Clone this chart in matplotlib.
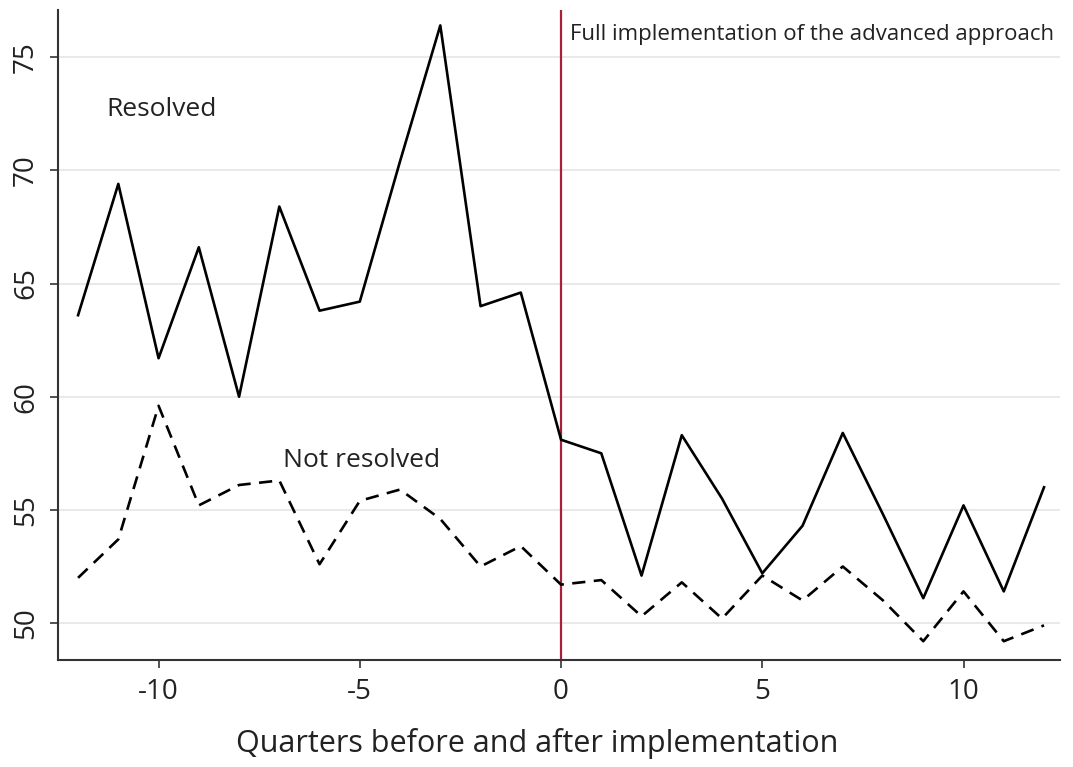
import numpy as np
import matplotlib.pyplot as plt

plt.rcParams['font.family'] = ['Open Sans', 'DejaVu Sans']
plt.rcParams['axes.unicode_minus'] = False

quarters = np.arange(-12, 13)
resolved = [63.6, 69.4, 61.7, 66.6, 60.0, 68.4, 63.8, 64.2, 70.4, 76.4, 64.0, 64.6,
            58.1, 57.5, 52.1, 58.3, 55.5, 52.2, 54.3, 58.4, 54.8, 51.1, 55.2, 51.4, 56.0]
not_resolved = [52.0, 53.7, 59.6, 55.2, 56.1, 56.3, 52.6, 55.4, 55.9, 54.6, 52.5, 53.4,
                51.7, 51.9, 50.3, 51.8, 50.2, 52.1, 51.0, 52.5, 51.0, 49.2, 51.4, 49.2, 49.9]
y_ticks = [50, 55, 60, 65, 70, 75]
x_ticks = [-10, -5, 0, 5, 10]

fig = plt.figure(figsize=(10.73, 7.67), dpi=100)
ax = fig.add_axes([0.054, 0.1395, 0.934, 0.848])

for y in y_ticks:
    ax.axhline(y, color='#e9e9e9', lw=1.5, zorder=0)

ax.axvline(0, color='#a8203c', lw=1.6, zorder=1)
ax.plot(quarters, resolved, color='black', lw=1.9, zorder=3)
ax.plot(quarters, not_resolved, color='black', lw=1.9, dashes=(5, 3.2), zorder=3)

ax.text(-11.3, 72.7, 'Resolved', fontsize=19, va='center', color='#222222')
ax.text(-6.9, 57.2, 'Not resolved', fontsize=19, va='center', color='#222222')
ax.text(0.22, 76.0, 'Full implementation of the advanced approach', fontsize=16,
        va='center', color='#222222')

ax.set_xlim(-12.5, 12.4)
ax.set_ylim(48.37, 77.1)
ax.set_xticks(x_ticks)
ax.set_yticks(y_ticks)
ax.tick_params(axis='both', direction='out', length=6, width=1.2, color='#333333',
               labelsize=20, labelcolor='#222222', pad=7)
for lab in ax.get_yticklabels():
    lab.set_rotation(90)
    lab.set_va('center')

for side in ['top', 'right']:
    ax.spines[side].set_visible(False)
for side in ['left', 'bottom']:
    ax.spines[side].set_color('#333333')
    ax.spines[side].set_linewidth(1.5)

ax.set_xlabel('Quarters before and after implementation', fontsize=22,
              color='#222222')
ax.xaxis.set_label_coords(0.478, -0.105)

fig.savefig('out.png', dpi=100)
